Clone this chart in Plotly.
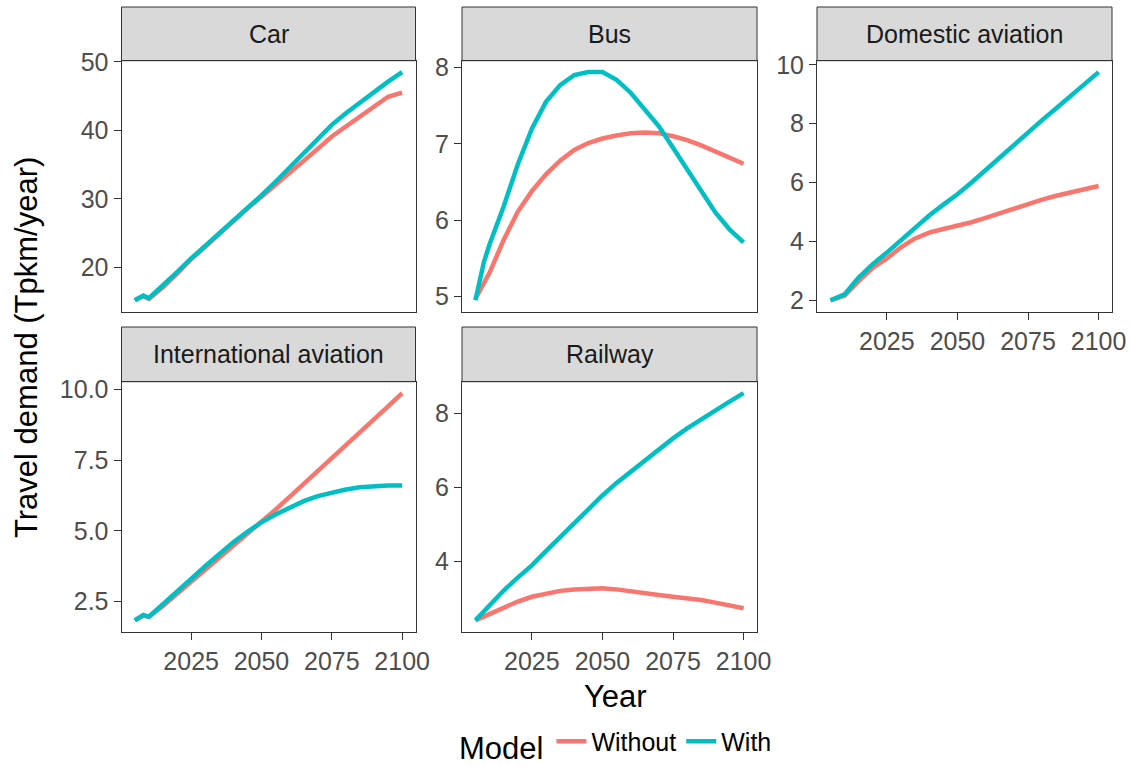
import plotly.graph_objects as go

# ---------------- data ----------------
years = [2005, 2008, 2010, 2015, 2020, 2025, 2030, 2035, 2040, 2045, 2050,
         2055, 2060, 2065, 2070, 2075, 2080, 2085, 2090, 2095, 2100]

car_without = [15.2, 15.8, 15.4, 17.1, 19.1, 21.2, 23.0, 24.9, 26.8, 28.6, 30.3,
               32.0, 33.8, 35.6, 37.3, 39.1, 40.6, 42.1, 43.6, 44.9, 45.5]
car_with = [15.2, 15.9, 15.5, 17.3, 19.3, 21.3, 23.1, 25.0, 26.9, 28.7, 30.5,
            32.5, 34.6, 36.7, 38.8, 40.8, 42.5, 44.1, 45.7, 47.1, 48.5]

bus_without = [4.97, 5.17, 5.31, 5.74, 6.11, 6.38, 6.60, 6.78, 6.92, 7.01, 7.07,
               7.11, 7.14, 7.15, 7.14, 7.10, 7.05, 6.98, 6.90, 6.82, 6.74]
bus_with = [4.95, 5.45, 5.68, 6.18, 6.73, 7.20, 7.55, 7.77, 7.90, 7.94, 7.94,
            7.84, 7.67, 7.46, 7.23, 6.95, 6.67, 6.38, 6.10, 5.88, 5.71]

dom_without = [2.00, 2.08, 2.15, 2.65, 3.10, 3.42, 3.80, 4.10, 4.30, 4.42, 4.52,
               4.65, 4.80, 4.96, 5.12, 5.28, 5.42, 5.55, 5.67, 5.79, 5.88]
dom_with = [2.00, 2.14, 2.20, 2.77, 3.23, 3.62, 4.05, 4.47, 4.88, 5.25, 5.60,
            6.00, 6.43, 6.88, 7.30, 7.72, 8.12, 8.52, 8.93, 9.35, 9.75]

intl_without = [1.84, 2.00, 1.97, 2.35, 2.78, 3.20, 3.65, 4.08, 4.50, 4.90, 5.30,
                5.75, 6.20, 6.65, 7.10, 7.55, 8.00, 8.45, 8.93, 9.40, 9.87]
intl_with = [1.84, 2.03, 1.97, 2.40, 2.85, 3.30, 3.75, 4.18, 4.60, 4.97, 5.30,
             5.58, 5.82, 6.05, 6.23, 6.36, 6.46, 6.54, 6.59, 6.60, 6.60]

rail_without = [2.39, 2.49, 2.55, 2.72, 2.90, 3.03, 3.12, 3.19, 3.23, 3.26, 3.26,
                3.23, 3.19, 3.14, 3.08, 3.03, 2.99, 2.94, 2.87, 2.80, 2.72]
rail_with = [2.39, 2.63, 2.80, 3.20, 3.55, 3.88, 4.27, 4.65, 5.03, 5.42, 5.78,
             6.12, 6.42, 6.75, 7.05, 7.33, 7.60, 7.85, 8.10, 8.33, 8.56]

panel_names = ["Car", "Bus", "Domestic aviation", "International aviation", "Railway"]
series_without = [car_without, bus_without, dom_without, intl_without, rail_without]
series_with = [car_with, bus_with, dom_with, intl_with, rail_with]
y_ticks = [[20, 30, 40, 50], [5, 6, 7, 8], [2, 4, 6, 8, 10],
           [2.5, 5.0, 7.5, 10.0], [4, 6, 8]]
y_tickformats = ["d", "d", "d", ".1f", "d"]
x_ticks = [2025, 2050, 2075, 2100]
model_labels = ["Without", "With"]

# ---------------- style / layout ----------------
W, H = 1132, 766
FONT = "Liberation Sans, Arial, sans-serif"
COL_WITHOUT = "#F8766D"
COL_WITH = "#00BFC4"
colors = [COL_WITHOUT, COL_WITH]

cols_px = [(121.5, 415.5), (462, 757), (817, 1112)]
rows_px = [((7, 60.7), (60.7, 311.7)), ((327, 381.7), (381.7, 631.7))]
# panel -> (row, col)
positions = [(0, 0), (0, 1), (0, 2), (1, 0), (1, 1)]
show_x_labels = [False, False, True, True, True]


def fx(px):
    return px / W


def fy(py):
    return 1 - py / H


fig = go.Figure()
shapes = []
annotations = []

x_lo = min(years) - 0.05 * (max(years) - min(years))
x_hi = max(years) + 0.05 * (max(years) - min(years))

for i, name in enumerate(panel_names):
    r, c = positions[i]
    (s_top, s_bot), (p_top, p_bot) = rows_px[r]
    x0, x1 = cols_px[c]
    ax = "" if i == 0 else str(i + 1)
    for k, ser in enumerate([series_without[i], series_with[i]]):
        fig.add_trace(go.Scatter(
            x=years, y=ser, mode="lines",
            line=dict(color=colors[k], width=4.5),
            name=model_labels[k], legendgroup=model_labels[k],
            showlegend=(i == 0),
            xaxis="x" + ax, yaxis="y" + ax,
        ))
    allv = series_without[i] + series_with[i]
    lo, hi = min(allv), max(allv)
    pad = 0.05 * (hi - lo)
    xa = dict(
        domain=[fx(x0), fx(x1)], range=[x_lo, x_hi], anchor="y" + ax,
        showgrid=False, zeroline=False, automargin=False,
        showline=True, mirror=True, linecolor="#333333", linewidth=1,
        tickvals=x_ticks, ticktext=[str(t) for t in x_ticks],
        showticklabels=show_x_labels[i],
        ticks="outside" if show_x_labels[i] else "",
        ticklen=7, tickcolor="#333333", tickwidth=1,
        tickfont=dict(family=FONT, size=25, color="#4D4D4D"),
    )
    ya = dict(
        domain=[fy(p_bot), fy(p_top)], range=[lo - pad, hi + pad], anchor="x" + ax,
        showgrid=False, zeroline=False, automargin=False,
        showline=True, mirror=True, linecolor="#333333", linewidth=1,
        tickvals=y_ticks[i], tickformat=y_tickformats[i],
        ticks="outside", ticklen=7, tickcolor="#333333", tickwidth=1,
        tickfont=dict(family=FONT, size=25, color="#4D4D4D"),
    )
    fig.update_layout(**{"xaxis" + ax: xa, "yaxis" + ax: ya})
    # strip
    shapes.append(dict(type="rect", xref="paper", yref="paper",
                       x0=fx(x0), x1=fx(x1), y0=fy(s_bot), y1=fy(s_top),
                       fillcolor="#D9D9D9", line=dict(color="#333333", width=1),
                       layer="below"))
    annotations.append(dict(text=name, xref="paper", yref="paper",
                            x=fx((x0 + x1) / 2), y=fy((s_top + s_bot) / 2),
                            xanchor="center", yanchor="middle", showarrow=False,
                            font=dict(family=FONT, size=25, color="#1A1A1A")))

annotations.append(dict(text="Year", xref="paper", yref="paper",
                        x=fx(615), y=fy(696), xanchor="center", yanchor="middle",
                        showarrow=False, font=dict(family=FONT, size=31, color="black")))
annotations.append(dict(text="Travel demand (Tpkm/year)", xref="paper", yref="paper",
                        x=fx(26), y=fy(348), xanchor="center", yanchor="middle",
                        textangle=-90, showarrow=False,
                        font=dict(family=FONT, size=31, color="black")))

fig.update_layout(
    width=W, height=H, autosize=False,
    margin=dict(l=0, r=0, t=0, b=0, pad=0, autoexpand=False),
    paper_bgcolor="white", plot_bgcolor="white",
    shapes=shapes, annotations=annotations,
    showlegend=True,
    legend=dict(
        orientation="h", x=fx(617), xanchor="center", y=fy(744), yanchor="middle",
        title=dict(text="Model", font=dict(family=FONT, size=31, color="black"), side="left"),
        font=dict(family=FONT, size=25, color="black"),
        itemwidth=30, bgcolor="rgba(0,0,0,0)",
    ),
)

fig.write_html("out.html", config={"displayModeBar": False},
               post_script="document.body.style.margin='0';document.body.style.overflow='hidden';")
